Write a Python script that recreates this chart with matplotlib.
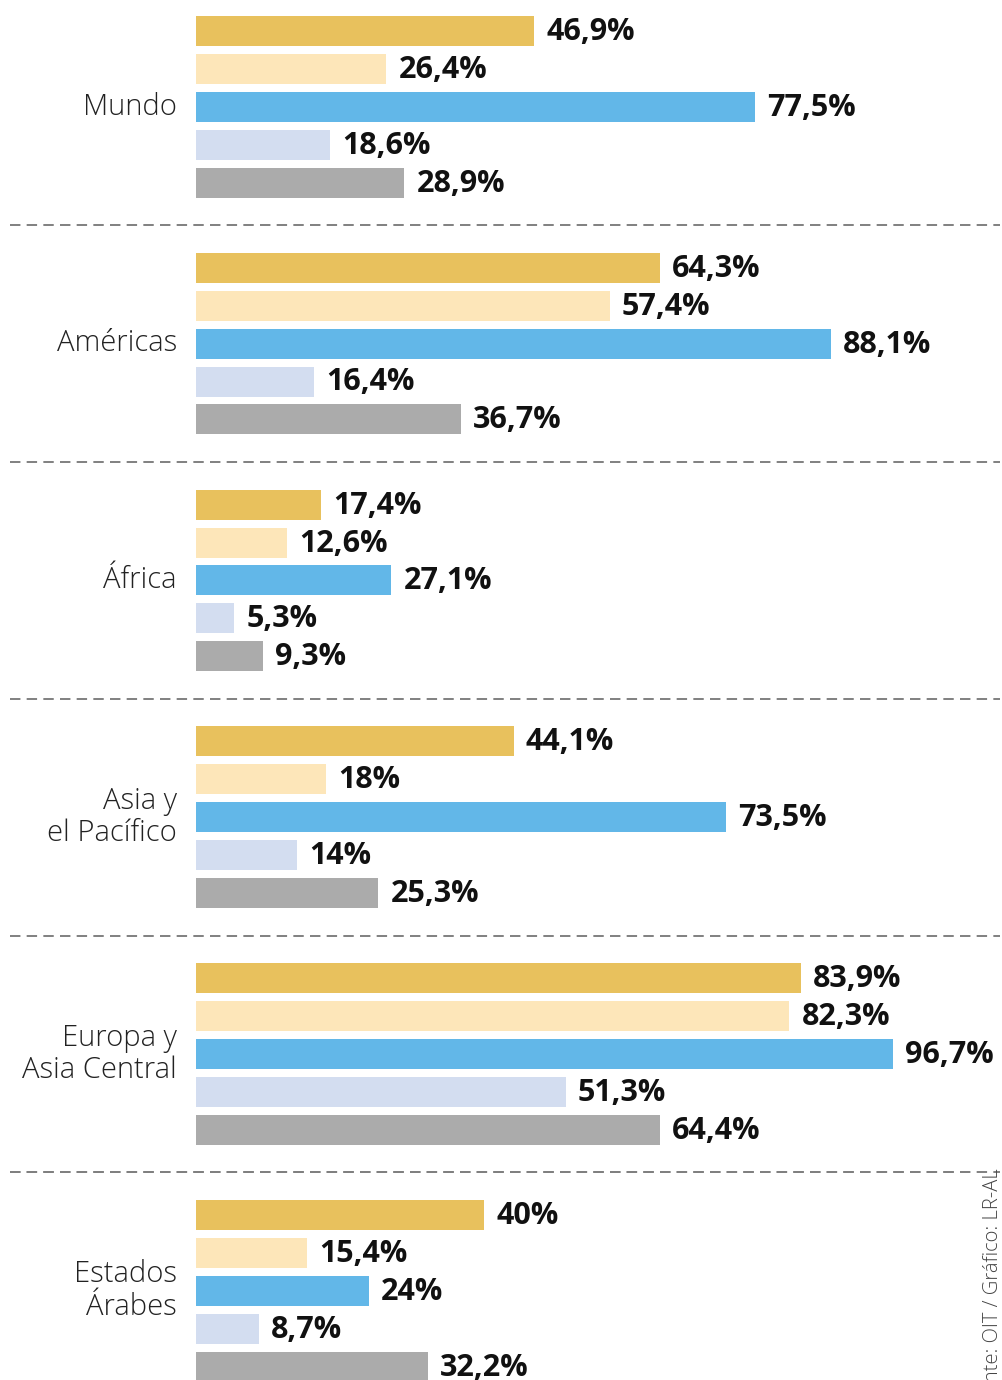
import numpy as np
import matplotlib.pyplot as plt

plt.rcParams['lines.scale_dashes'] = False

# data
regions = ["Mundo", "Américas", "África", "Asia y\nel Pacífico", "Europa y\nAsia Central", "Estados\nÁrabes"]
serie1 = [46.9, 64.3, 17.4, 44.1, 83.9, 40.0]
serie2 = [26.4, 57.4, 12.6, 18.0, 82.3, 15.4]
serie3 = [77.5, 88.1, 27.1, 73.5, 96.7, 24.0]
serie4 = [18.6, 16.4, 5.3, 14.0, 51.3, 8.7]
serie5 = [28.9, 36.7, 9.3, 25.3, 64.4, 32.2]
value_labels = [
    ["46,9%", "26,4%", "77,5%", "18,6%", "28,9%"],
    ["64,3%", "57,4%", "88,1%", "16,4%", "36,7%"],
    ["17,4%", "12,6%", "27,1%", "5,3%", "9,3%"],
    ["44,1%", "18%", "73,5%", "14%", "25,3%"],
    ["83,9%", "82,3%", "96,7%", "51,3%", "64,4%"],
    ["40%", "15,4%", "24%", "8,7%", "32,2%"],
]
source = "Fuente: OIT / Gráfico: LR-AL"

colors = ["#E8C15D", "#FDE6B9", "#62B7E8", "#D3DDF0", "#ABABAB"]
series = [serie1, serie2, serie3, serie4, serie5]

# layout (pixel based)
W, H = 1003, 1380
x0 = 196          # left edge of bars
px = 7.21         # pixels per percent
group_step = 236.8
bar_step = 37.9
first_y = 31
bar_h = 30

fig = plt.figure(figsize=(W / 100, H / 100), dpi=100)
ax = fig.add_axes([0, 0, 1, 1])
ax.set_xlim(-x0 / px, (W - x0) / px)
ax.set_ylim(H, 0)
ax.axis("off")

for g, reg in enumerate(regions):
    base = first_y + g * group_step
    ys = [base + i * bar_step for i in range(5)]
    vals = [s[g] for s in series]
    ax.barh(ys, vals, height=bar_h, color=colors, left=0)
    for y, v, lab in zip(ys, vals, value_labels[g]):
        ax.text(v + 12 / px, y + 1, lab, ha="left", va="center",
                fontsize=22, fontweight="bold", family="Open Sans", color="#111111")
    ax.text(-19 / px, ys[2], reg, ha="right", va="center", fontsize=21,
            fontweight="light", family="Open Sans", color="#222222", linespacing=1.12)
    if g < len(regions) - 1:
        yd = base + 4 * bar_step + 42.5
        ax.plot([-186 / px, (W - 3 - x0) / px], [yd, yd], color="#808080", lw=1.4,
                linestyle=(0, (7.5, 4.5)))

# last dashed line above Estados Árabes (shorter, stops before source text)
yd = first_y + 4 * group_step + 4 * bar_step + 42.5
ax.plot([-186 / px, (970 - x0) / px], [yd, yd], color="#808080", lw=1.4,
        linestyle=(0, (7.5, 4.5)))

ax.text((993 - x0) / px, 1168, source, rotation=90, ha="center", va="top",
        fontsize=14.5, fontweight="light", family="Open Sans", color="#444444")

fig.savefig("out.png", dpi=100)
